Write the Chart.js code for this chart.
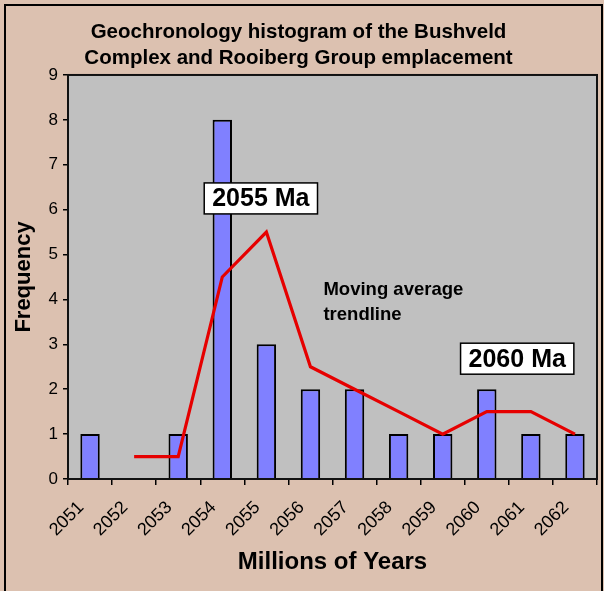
<!DOCTYPE html>
<html>
<head>
<meta charset="utf-8">
<script src="https://cdn.jsdelivr.net/npm/chart.js@4/dist/chart.umd.min.js"></script>
<style>
  html, body { margin: 0; padding: 0; background: #dcc1b0; }
  #c { display: block; }
</style>
</head>
<body>
<canvas id="c" width="604" height="591"></canvas>
<script>
// ---- data ----
const years = ['2051','2052','2053','2054','2055','2056','2057','2058','2059','2060','2061','2062'];
const frequency = [1, 0, 1, 8, 3, 2, 2, 1, 1, 2, 1, 1];
const movingAverage = [null, 0.5, 0.5, 4.5, 5.5, 2.5, 2, 1.5, 1, 1.5, 1.5, 1];
const yTickValues = [0, 1, 2, 3, 4, 5, 6, 7, 8, 9];
const titleLines = ['Geochronology histogram of the Bushveld', 'Complex and Rooiberg Group emplacement'];
const xAxisTitle = 'Millions of Years';
const yAxisTitle = 'Frequency';
const peakLabels = ['2055 Ma', '2060 Ma'];
const trendNote = ['Moving average', 'trendline'];

const FONT = '"Liberation Sans", Arial, Helvetica, sans-serif';
const BG = '#dcc1b0';
const PLOT = '#c0c0c0';

const decor = {
  id: 'decor',
  beforeDraw(chart) {
    const {ctx, chartArea: a} = chart;
    ctx.save();
    ctx.fillStyle = BG;
    ctx.fillRect(0, 0, chart.width, chart.height);
    ctx.fillStyle = PLOT;
    ctx.fillRect(a.left, a.top, a.right - a.left, a.bottom - a.top);
    ctx.strokeStyle = '#000';
    ctx.lineWidth = 2;
    ctx.strokeRect(5, 5, 597, 600);
    ctx.restore();
  },
  afterDraw(chart) {
    const {ctx, chartArea: a} = chart;
    const xs = chart.scales.x, ys = chart.scales.y;
    ctx.save();
    ctx.strokeStyle = '#111';
    ctx.lineWidth = 2;
    ctx.strokeRect(a.left, a.top, a.right - a.left, a.bottom - a.top);

    function box(text, xv, yv) {
      const cx = xs.getPixelForValue(xv);
      const cy = ys.getPixelForValue(yv);
      ctx.font = 'bold 25px ' + FONT;
      const w = ctx.measureText(text).width + 16;
      const h = 31;
      ctx.fillStyle = '#fff';
      ctx.fillRect(cx - w / 2, cy - h / 2, w, h);
      ctx.strokeStyle = '#000';
      ctx.lineWidth = 1.5;
      ctx.strokeRect(cx - w / 2, cy - h / 2, w, h);
      ctx.fillStyle = '#000';
      ctx.textAlign = 'center';
      ctx.textBaseline = 'middle';
      ctx.fillText(text, cx, cy + 1);
    }
    box(peakLabels[0], 3.875, 6.25);
    box(peakLabels[1], 9.69, 2.68);

    ctx.font = 'bold 18.5px ' + FONT;
    ctx.fillStyle = '#000';
    ctx.textAlign = 'left';
    ctx.textBaseline = 'alphabetic';
    const tx = xs.getPixelForValue(5.295);
    const ty = ys.getPixelForValue(4.1);
    trendNote.forEach((t, i) => ctx.fillText(t, tx, ty + i * 25));
    ctx.restore();
  }
};

new Chart(document.getElementById('c'), {
  data: {
    labels: years,
    datasets: [
      {
        type: 'line',
        label: 'Moving average',
        data: movingAverage,
        borderColor: '#e60000',
        borderWidth: 3.2,
        pointRadius: 0,
        tension: 0,
        fill: false,
        spanGaps: false,
        order: 0
      },
      {
        type: 'bar',
        label: 'Frequency',
        data: frequency,
        backgroundColor: '#8080ff',
        borderColor: '#000',
        borderWidth: 2,
        barPercentage: 0.44,
        categoryPercentage: 1,
        order: 1
      }
    ]
  },
  options: {
    responsive: false,
    animation: false,
    devicePixelRatio: 1,
    layout: { padding: { left: 0, right: 7, top: 0, bottom: 0 } },
    plugins: {
      legend: { display: false },
      tooltip: { enabled: false },
      title: {
        display: true,
        text: titleLines,
        color: '#000',
        font: { family: FONT, size: 20.5, weight: 'bold', lineHeight: 1.27 },
        padding: { top: 19, bottom: 3.9 }
      }
    },
    scales: {
      x: {
        type: 'category',
        offset: true,
        afterFit(s) { s.height = 112; },
        grid: { offset: true, drawOnChartArea: false, drawTicks: true, tickLength: 6, color: '#000', lineWidth: 1.5 },
        border: { display: true, color: '#000', width: 2 },
        ticks: {
          color: '#000',
          font: { family: FONT, size: 18 },
          minRotation: 45,
          maxRotation: 45,
          padding: 12,
          labelOffset: -9,
          autoSkip: false
        },
        title: {
          display: true,
          text: xAxisTitle,
          color: '#000',
          font: { family: FONT, size: 24, weight: 'bold' },
          padding: { top: 0, bottom: 14 }
        }
      },
      y: {
        min: 0,
        max: 9,
        afterFit(s) { s.width = 68; },
        afterBuildTicks(s) { s.ticks = yTickValues.map(v => ({ value: v })); },
        grid: { drawOnChartArea: false, drawTicks: true, tickLength: 5, color: '#000', lineWidth: 1.5 },
        border: { display: true, color: '#000', width: 2 },
        ticks: {
          color: '#000',
          font: { family: FONT, size: 17 },
          padding: 5
        },
        title: {
          display: true,
          text: yAxisTitle,
          color: '#000',
          font: { family: FONT, size: 22, weight: 'bold' },
          padding: { top: 11, bottom: 0 }
        }
      }
    }
  },
  plugins: [decor]
});
</script>
</body>
</html>
